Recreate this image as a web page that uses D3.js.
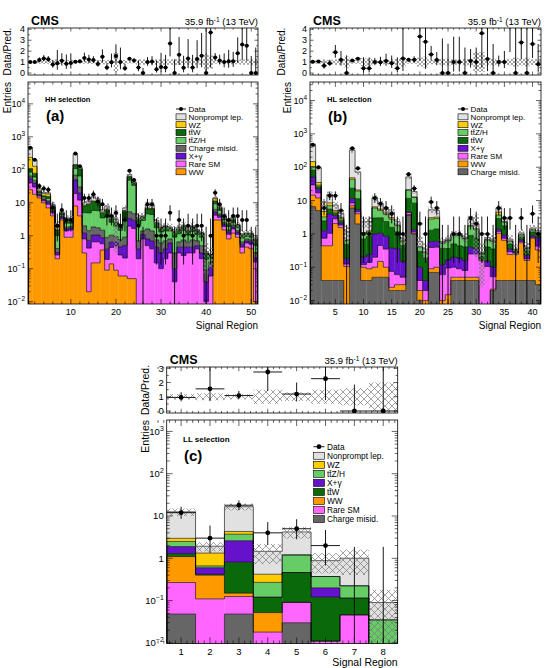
<!DOCTYPE html>
<html>
<head>
<meta charset="utf-8">
<script src="https://cdn.jsdelivr.net/npm/d3@7"></script>
<style>
body { margin: 0; background: #fff; }
svg text { font-family: "Liberation Sans", Arial, Helvetica, sans-serif; fill: #000; }
</style>
</head>
<body>
<script>
// ---------- data: HH selection (51 signal regions) ----------
var hhWW = [25,18,14,10,7,4,0.2,3,0.9,0.9, 8,4,0.3,0.02,0.15,0.15,0.37,0.09,0.14,0.09, 0.06,0.06,0.05,0.05,0,0,0,0,0,0, 0,0,0,0,0,0,0,0,0,0, 0,3,3,1.5,0.8,1.2,0.9,0.3,0.45,0.4, 0.01];
var hhRare = [15,12,2,1.5,2,1,0.06,0.3,0.5,0.6, 11,8,0.5,0.4,0.5,0.5,0.2,0.1,0.3,0.4, 0.2,0.15,1.9,1.6,0.2,0.8,0.5,0.4,0.15,0.1, 0.2,0.3,0.04,0.3,0.25,0.3,0.3,0.4,0.2,0.01, 0.06,1.2,0.6,0.4,0.3,0.4,0.2,0.15,0.15,0.15, 0.15];
var hhXg = [15,10,1.5,1,1.5,0.5,0.05,0.3,0.2,0.2, 30,8,0.4,0.3,0.4,0.4,0.3,0.2,0.2,0.15, 0.2,0.3,1.4,1.3,0.2,0.3,0.3,0.3,0.3,0.2, 0.2,0.3,0.06,0.15,0.2,0.15,0.15,0.1,0.1,0.03, 0.05,1.1,0.5,0.3,0.2,0.25,0.2,0.1,0.1,0.1, 0.05];
var hhChargeMisid = [10,8,1,0.8,1,0.5,0.1,0.2,0.2,0.2, 20,10,0.8,0.7,0.8,0.7,0.6,0.5,0.4,0.3, 0.3,0.4,2,1.7,0.3,0.3,0.8,0.7,0.3,0.3, 0.3,0.2,0.2,0.2,0.3,0.2,0.3,0.2,0.2,0.05, 0.05,1,0.5,0.3,0.2,0.2,0.15,0.1,0.1,0.1, 0.1];
var hhTTZH = [20,12,1.5,1.5,2,0.8,0.6,0.5,0.6,0.5, 40,35,3,3.5,4,4,2,3,1.5,1, 0.7,2.5,43,29,1.5,1.5,3,3,1,0.7, 0.7,0.6,0.6,0.5,0.7,0.4,0.6,0.4,0.4,0.1, 0.05,3,1.2,0.6,0.4,0.5,0.3,0.2,0.15,0.15, 0.2];
var hhTTW = [25,18,2,1.5,2,1,0.5,0.5,0.6,0.5, 30,40,3,4,5,4,1.5,2,1,0.6, 0.4,2,13,6,1,0.8,2,2,0.7,0.4, 0.5,0.3,0.4,0.4,0.5,0.3,0.5,0.3,0.3,0.1, 0.05,2,1,0.5,0.5,0.5,0.3,0.2,0.2,0.2, 0.2];
var hhWZ = [130,50,2,3,3,0.5,0.3,0.2,0.2,0.1, 5,3,0.5,0.4,0.5,0.4,0.3,0.3,0.2,0.1, 0.1,0.4,2,1,0.2,0.1,0.4,0.3,0.1,0.05, 0.05,0.05,0.05,0.05,0.05,0.05,0.05,0.05,0.02,0.01, 0.01,2.5,0.5,0.2,0.3,0.2,0.1,0.05,0.05,0.05, 0.05];
var hhNonprompt = [230,72,3,1,1.5,0.7,0.4,0.3,0.3,0.3, 156,12,1.6,2,3.8,3,0.8,1.8,0.3,0.56, 0.04,1.2,8,2,0.6,0.2,2,1.8,0.4,0.05, 0.05,0.1,0.15,0.2,0.1,0.1,0.1,0.1,0.05,0.03, 0,0.2,0.5,0.2,0.1,0.45,0.05,0.05,0,0.05, 0.04];
var hhData = [470,200,32,27,25,7,2,6,3,3, 310,128,14,14,18,11,9,4,4,5, 2,3,93,49,2,0,9,9,1,1, 1,5,0,3,1,2,1,2,2,0, 1,20,9,4,3,4,4,3,3,0, 0];
var hhUnc = [0.1,0.1,0.15,0.15,0.15,0.15,0.25,0.15,0.2,0.2, 0.1,0.12,0.15,0.15,0.15,0.15,0.2,0.2,0.2,0.9, 0.25,0.2,0.12,0.12,0.25,0.25,0.2,0.2,0.25,0.25, 0.25,0.25,0.3,0.25,0.25,0.25,0.25,0.25,0.25,0.8, 0.6,0.15,0.15,0.2,0.2,0.2,0.2,0.25,0.25,0.25, 0.3];

// ---------- data: HL selection (41 signal regions) ----------
var hlChargeMisid = [6.6,5,0.04,0.04,0.04,0.04,0.005,6,2,0.04, 0.04,0.05,0.05,0.05,0.02,0.02,0.02,3.7,1,0.01, 0.005,0.07,0.07,0.005,0.005,0.04,0.04,0.04,0.04,0.04, 0.003,0.003,0.02,0.04,0.04,0.04,0.04,0.04,0.04,0.04, 0.03];
var hlWW = [8,7,0.4,0.4,2,1.5,0.1,1,2,0.06, 0.05,0.05,0.1,0.05,0.005,0.01,0.01,0.05,0.05,0.01, 0.005,0.02,0.03,0.005,0.01,0.01,0.01,0.01,0.01,0.01, 0.002,0.002,0.002,1,0.6,0.2,0.2,0.5,0.12,0.7, 0.3];
var hlRare = [15,5,0.3,0.6,0.8,0.3,0.02,1.5,0.6,0.02, 0.05,0.1,0.3,0.25,0.05,0.03,0.02,0.6,0.1,0.02, 0.01,0.3,0.3,0.05,0.08,0.05,0.04,0.03,0.2,0.2, 0.15,0.1,0.03,0.15,0.1,0.05,0.02,0.05,0.02,0.05, 0.1];
var hlXg = [22,5,0.5,3,0.7,0.3,0.06,3,0.8,0.08, 0.1,0.8,0.6,0.5,0.3,0.3,0.1,0.3,0.2,0.06, 0.02,0.2,0.2,0.06,0.07,0.1,0.1,0.08,0.15,0.1, 0.005,0.05,0.05,0.2,0.2,0.06,0.02,0.08,0.05,0.1, 0.35];
var hlTTW = [30,4,1.2,1.5,0.6,0.4,0.3,12,6,0.5, 0.6,2,2,1.5,1.2,0.8,0.3,7,7,0.2, 0.15,0.7,0.8,0.25,0.2,0.3,0.25,0.25,0.5,0.4, 0.05,0.25,0.25,1.5,0.8,0.15,0.03,0.15,0.08,0.25, 0.2];
var hlTTZH = [23,3,0.8,1.5,0.4,0.3,0.15,20,8,0.3, 0.3,3,2,1.5,1.2,0.6,0.15,9,4,0.1, 0.08,1.5,1.5,0.15,0.25,0.4,0.45,0.3,0.8,0.6, 0.04,0.25,0.25,0.8,0.5,0.1,0.02,0.1,0.05,0.15, 0.1];
var hlWZ = [43,6,1.5,1.5,0.5,0.3,0.02,5,1.5,0.1, 0.1,0.5,0.5,0.4,0.3,0.1,0.05,0.5,0.5,0.02, 0.02,0.3,0.3,0.02,0.02,0.03,0.05,0.02,0.1,0.08, 0.005,0.02,0.02,0.8,0.1,0.02,0.01,0.05,0.01,0.06, 0.04];
var hlNonprompt = [310,60,4.3,7,2.3,1,0.5,272,50,1.2, 1.1,5.5,2.5,1.2,1.4,0.45,0.1,30,6,0.18, 0.06,2.2,1.8,0.05,0.06,0.07,0.06,0.07,0.9,0.57, 0.02,0.1,0.08,1.5,0.6,0.08,0.01,0.1,0.03,0.15, 0.13];
var hlData = [470,100,6,14,14,5,0,370,93,1, 1,12,8,6,4,1,1,62,23,2, 1,9,6,0,0,1,1,0,3,2, 1,1,0,6,3,3,0,3,0,4, 1];
var hlUnc = [0.15,0.15,0.25,0.2,0.25,0.25,0.5,0.15,0.15,0.35, 0.35,0.2,0.2,0.2,0.25,0.3,0.4,0.15,0.15,0.4, 0.5,0.2,0.2,0.3,0.3,0.25,0.25,0.3,0.3,0.9, 0.9,0.3,0.3,0.2,0.2,0.3,0.4,0.3,0.4,0.25, 0.3];

// ---------- data: LL selection (8 signal regions) ----------
var llChargeMisid = [0.048,0,0.048,0,0.03,0,0,0];
var llRare = [0.22,0.11,0.077,0.018,0.061,0.011,0.046,0];
var llWW = [0.83,0.29,0.025,0.034,0,0,0,0];
var llTTW = [0.2,0.02,0.66,0.068,0.37,0.11,0.068,0];
var llXg = [0.6,0.18,1.8,0,0,0.08,0,0];
var llTTZH = [0.6,0.06,1.1,0.15,0.74,0.17,0.11,0.035];
var llWZ = [0.47,0.67,0.6,0.15,0,0,0,0];
var llNonprompt = [9.6,0.6,12.3,1.04,3.0,0.51,0.78,0.055];
var llData = [12,3,18,4,5,2,0,0];
var llUnc = [0.2,0.25,0.18,0.5,0.3,0.5,0.6,1.0];

//colours of the processes
var colors = {
    nonprompt: "#e1e1e1",
    wz: "#ffcc00",
    ttw: "#0a6a0a",
    ttzh: "#66cc66",
    cmid: "#666666",
    xg: "#6611cc",
    rare: "#ff66ff",
    ww: "#ff9900"
};
var TTW = "tt\u0304W", TTZH = "tt\u0304Z/H";

var svg = d3.select("body").append("svg")
    .attr("width", 549)
    .attr("height", 668);
var defs = svg.append("defs");

function makeHatch(id, s) {
    var p = defs.append("pattern").attr("id", id)
        .attr("patternUnits", "userSpaceOnUse")
        .attr("width", s).attr("height", s);
    p.append("path")
        .attr("d", `M0,0L${s},${s}M${s},0L0,${s}`)
        .attr("stroke", "#7a7a7a").attr("stroke-width", 0.7).attr("fill", "none");
}
makeHatch("hatchSmall", 4);
makeHatch("hatchBig", 7);

//poisson-like data error bars
function errUp(n) { return Math.sqrt(n + 0.75) + 1; }
function errDn(n) { return n > 0 ? Math.sqrt(n - 0.25) : 0; }

function supLabel(sel, base, sup, size) {
    sel.append("tspan").text(base);
    if (sup !== null) {
        sel.append("tspan").attr("dy", -size * 0.4).attr("font-size", size * 0.72).text(sup);
    }
}

function drawPanel(cfg) {
    var nb = cfg.data.length;
    var keys = cfg.procs.map(p => p.key);
    var rows = d3.range(nb).map(function (i) {
        var r = { bin: i + 1 };
        cfg.procs.forEach(p => r[p.key] = p.values[i]);
        return r;
    });
    var series = d3.stack().keys(keys)(rows);
    var totals = rows.map(r => d3.sum(keys, k => r[k]));

    var x = d3.scaleLinear().domain([0.5, nb + 0.5]).range([cfg.left, cfg.right]);
    var y = d3.scaleLog().domain(cfg.logDomain).range([cfg.mainBottom, cfg.mainTop]);
    var yR = d3.scaleLinear().domain(cfg.ratioDomain).range([cfg.ratioBottom, cfg.ratioTop]);
    var low = cfg.mainBottom + 4;
    var yPix = v => v > 0 ? y(v) : low;

    defs.append("clipPath").attr("id", cfg.id + "main").append("rect")
        .attr("x", cfg.left).attr("y", cfg.mainTop)
        .attr("width", cfg.right - cfg.left).attr("height", cfg.mainBottom - cfg.mainTop);
    defs.append("clipPath").attr("id", cfg.id + "ratio").append("rect")
        .attr("x", cfg.left).attr("y", cfg.ratioTop)
        .attr("width", cfg.right - cfg.left).attr("height", cfg.ratioBottom - cfg.ratioTop);

    var main = svg.append("g").attr("clip-path", `url(#${cfg.id}main)`);

    //stacked fills
    series.forEach(function (s, k) {
        main.append("g").selectAll("rect")
            .data(s.filter(d => d[1] - d[0] > 0))
            .enter()
            .append("rect")
            .attr("x", d => x(d.data.bin - 0.5))
            .attr("width", d => x(d.data.bin + 0.5) - x(d.data.bin - 0.5) + 0.3)
            .attr("y", d => yPix(d[1]))
            .attr("height", d => yPix(d[0]) - yPix(d[1]))
            .attr("fill", cfg.procs[k].color);
    });
    //outlines of each layer
    series.forEach(function (s) {
        var p = d3.path();
        p.moveTo(x(0.5), low);
        s.forEach(function (d, i) {
            p.lineTo(x(i + 0.5), yPix(d[1]));
            p.lineTo(x(i + 1.5), yPix(d[1]));
        });
        p.lineTo(x(nb + 0.5), low);
        main.append("path").attr("d", p.toString())
            .attr("fill", "none").attr("stroke", "#000").attr("stroke-width", 0.6);
    });

    //uncertainty band
    main.append("g").selectAll("rect")
        .data(d3.range(nb))
        .enter()
        .append("rect")
        .attr("x", i => x(i + 0.5))
        .attr("width", i => x(i + 1.5) - x(i + 0.5))
        .attr("y", i => y(totals[i] * (1 + cfg.unc[i])))
        .attr("height", i => yPix(totals[i] * (1 - cfg.unc[i])) - y(totals[i] * (1 + cfg.unc[i])))
        .attr("fill", `url(#${cfg.hatch})`);

    //data points
    var dg = main.append("g");
    cfg.data.forEach(function (n, i) {
        var cx = x(i + 1);
        dg.append("line").attr("x1", cx).attr("x2", cx)
            .attr("y1", yPix(n - errDn(n))).attr("y2", y(n + errUp(n)))
            .attr("stroke", "#000").attr("stroke-width", 0.9);
        if (n > 0) {
            dg.append("line").attr("x1", x(i + 0.5)).attr("x2", x(i + 1.5))
                .attr("y1", y(n)).attr("y2", y(n))
                .attr("stroke", "#000").attr("stroke-width", 0.9);
            dg.append("circle").attr("cx", cx).attr("cy", y(n)).attr("r", cfg.markerR);
        }
    });

    //ratio panel
    var rg = svg.append("g").attr("clip-path", `url(#${cfg.id}ratio)`);
    rg.append("g").selectAll("rect")
        .data(d3.range(nb))
        .enter()
        .append("rect")
        .attr("x", i => x(i + 0.5))
        .attr("width", i => x(i + 1.5) - x(i + 0.5))
        .attr("y", i => yR(1 + cfg.unc[i]))
        .attr("height", i => yR(1 - cfg.unc[i]) - yR(1 + cfg.unc[i]))
        .attr("fill", `url(#${cfg.hatch})`);
    cfg.data.forEach(function (n, i) {
        var t = totals[i];
        var r = n / t;
        var cx = x(i + 1);
        rg.append("line").attr("x1", cx).attr("x2", cx)
            .attr("y1", yR(r - errDn(n) / t)).attr("y2", yR(r + errUp(n) / t))
            .attr("stroke", "#000").attr("stroke-width", 0.9);
        rg.append("line").attr("x1", x(i + 0.5)).attr("x2", x(i + 1.5))
            .attr("y1", yR(r)).attr("y2", yR(r))
            .attr("stroke", "#000").attr("stroke-width", 0.9);
        rg.append("circle").attr("cx", cx).attr("cy", yR(r)).attr("r", cfg.markerR);
    });

    //frames and ticks
    var ax = svg.append("g").attr("stroke", "#000").attr("fill", "none");
    [[cfg.mainTop, cfg.mainBottom], [cfg.ratioTop, cfg.ratioBottom]].forEach(function (fr) {
        ax.append("rect").attr("x", cfg.left).attr("y", fr[0])
            .attr("width", cfg.right - cfg.left).attr("height", fr[1] - fr[0])
            .attr("stroke-width", 0.8);
    });
    function xTicks(top, bottom, big) {
        var maj = big ? cfg.tickMajor : cfg.tickMajor * 0.7;
        d3.range(cfg.xMinorStep, nb + 0.5, cfg.xMinorStep).forEach(function (v) {
            var isMaj = Math.abs(v / cfg.xMajorStep - Math.round(v / cfg.xMajorStep)) < 1e-6;
            var len = isMaj ? maj : maj * 0.5;
            var px = x(v);
            ax.append("line").attr("x1", px).attr("x2", px).attr("y1", bottom).attr("y2", bottom - len).attr("stroke-width", 0.6);
            ax.append("line").attr("x1", px).attr("x2", px).attr("y1", top).attr("y2", top + len).attr("stroke-width", 0.6);
        });
    }
    xTicks(cfg.mainTop, cfg.mainBottom, true);
    xTicks(cfg.ratioTop, cfg.ratioBottom, false);

    function yTick(py, len) {
        ax.append("line").attr("x1", cfg.left).attr("x2", cfg.left + len).attr("y1", py).attr("y2", py).attr("stroke-width", 0.6);
        ax.append("line").attr("x1", cfg.right).attr("x2", cfg.right - len).attr("y1", py).attr("y2", py).attr("stroke-width", 0.6);
    }
    var e0 = Math.floor(Math.log10(cfg.logDomain[0])), e1 = Math.ceil(Math.log10(cfg.logDomain[1]));
    var lab = svg.append("g").attr("font-size", cfg.fontTick);
    for (var e = e0; e <= e1; e++) {
        for (var m = 1; m <= 9; m++) {
            var v = m * Math.pow(10, e);
            if (v < cfg.logDomain[0] || v > cfg.logDomain[1]) continue;
            yTick(y(v), m === 1 ? cfg.tickMajor : cfg.tickMajor * 0.5);
            if (m === 1) {
                var t = lab.append("text").attr("x", cfg.left - 3).attr("y", y(v) + cfg.fontTick * 0.35)
                    .attr("text-anchor", "end");
                if (e === 0) supLabel(t, "1", null, cfg.fontTick);
                else if (e === 1) supLabel(t, "10", null, cfg.fontTick);
                else supLabel(t, "10", String(e).replace("-", "\u2212"), cfg.fontTick);
            }
        }
    }
    d3.range(0, cfg.ratioDomain[1], 0.5).forEach(function (v) {
        var isMaj = Math.abs(v - Math.round(v)) < 1e-6;
        yTick(yR(v), isMaj ? cfg.tickMajor * 0.7 : cfg.tickMajor * 0.35);
        if (isMaj) {
            lab.append("text").attr("x", cfg.left - 3).attr("y", yR(v) + cfg.fontTick * 0.35)
                .attr("text-anchor", "end").text(v);
        }
    });
    d3.range(cfg.xMajorStep, nb + 0.5, cfg.xMajorStep).forEach(function (v) {
        lab.append("text").attr("x", x(v)).attr("y", cfg.mainBottom + cfg.fontTick + 2)
            .attr("text-anchor", "middle").text(v);
    });

    //titles
    var tg = svg.append("g");
    tg.append("text").attr("x", cfg.right).attr("y", cfg.mainBottom + cfg.titleDy)
        .attr("text-anchor", "end").attr("font-size", cfg.fontTitle).text("Signal Region");
    tg.append("text").attr("transform", `translate(${cfg.entriesX},${cfg.mainTop}) rotate(-90)`)
        .attr("text-anchor", "end").attr("font-size", cfg.fontTitle).text("Entries");
    tg.append("text").attr("transform", `translate(${cfg.ratioTitleX},${(cfg.ratioTop + cfg.ratioBottom) / 2}) rotate(-90)`)
        .attr("text-anchor", "middle").attr("font-size", cfg.fontTitle).text("Data/Pred.");
    tg.append("text").attr("x", cfg.left + 3).attr("y", cfg.ratioTop - 3)
        .attr("font-size", 12.5).attr("font-weight", "bold").text("CMS");
    var lumi = tg.append("text").attr("x", cfg.right).attr("y", cfg.ratioTop - 3)
        .attr("text-anchor", "end").attr("font-size", 9.5);
    lumi.append("tspan").text("35.9 fb");
    lumi.append("tspan").attr("dy", -3.5).attr("font-size", 6.5).text("-1");
    lumi.append("tspan").attr("dy", 3.5).text(" (13 TeV)");
    tg.append("text").attr("x", cfg.selX).attr("y", cfg.selY)
        .attr("font-size", cfg.fontSel).attr("font-weight", "bold").text(cfg.selection);
    tg.append("text").attr("x", cfg.selX + 1).attr("y", cfg.letterY)
        .attr("font-size", 15).attr("font-weight", "bold").text(cfg.letter);

    //legend
    var lg = svg.append("g");
    cfg.legend.forEach(function (e, i) {
        var cy = cfg.legendY + i * cfg.legendDy;
        if (e.key === "data") {
            lg.append("line").attr("x1", cfg.legendX).attr("x2", cfg.legendX + cfg.boxW)
                .attr("y1", cy).attr("y2", cy).attr("stroke", "#000").attr("stroke-width", 0.9);
            lg.append("circle").attr("cx", cfg.legendX + cfg.boxW / 2).attr("cy", cy).attr("r", cfg.markerR);
        } else {
            lg.append("rect").attr("x", cfg.legendX).attr("y", cy - cfg.boxH / 2)
                .attr("width", cfg.boxW).attr("height", cfg.boxH)
                .attr("fill", e.color).attr("stroke", "#000").attr("stroke-width", 0.6);
        }
        lg.append("text").attr("x", cfg.legendX + cfg.boxW + 2.5).attr("y", cy + cfg.fontLegend * 0.36)
            .attr("font-size", cfg.fontLegend).text(e.label);
    });
}

var procHH = [
    { key: "ww", label: "WW", values: hhWW, color: colors.ww },
    { key: "rare", label: "Rare SM", values: hhRare, color: colors.rare },
    { key: "xg", label: "X+\u03b3", values: hhXg, color: colors.xg },
    { key: "cmid", label: "Charge misid.", values: hhChargeMisid, color: colors.cmid },
    { key: "ttzh", label: TTZH, values: hhTTZH, color: colors.ttzh },
    { key: "ttw", label: TTW, values: hhTTW, color: colors.ttw },
    { key: "wz", label: "WZ", values: hhWZ, color: colors.wz },
    { key: "nonprompt", label: "Nonprompt lep.", values: hhNonprompt, color: colors.nonprompt }
];
var procHL = [
    { key: "cmid", label: "Charge misid.", values: hlChargeMisid, color: colors.cmid },
    { key: "ww", label: "WW", values: hlWW, color: colors.ww },
    { key: "rare", label: "Rare SM", values: hlRare, color: colors.rare },
    { key: "xg", label: "X+\u03b3", values: hlXg, color: colors.xg },
    { key: "ttw", label: TTW, values: hlTTW, color: colors.ttw },
    { key: "ttzh", label: TTZH, values: hlTTZH, color: colors.ttzh },
    { key: "wz", label: "WZ", values: hlWZ, color: colors.wz },
    { key: "nonprompt", label: "Nonprompt lep.", values: hlNonprompt, color: colors.nonprompt }
];
var procLL = [
    { key: "cmid", label: "Charge misid.", values: llChargeMisid, color: colors.cmid },
    { key: "rare", label: "Rare SM", values: llRare, color: colors.rare },
    { key: "ww", label: "WW", values: llWW, color: colors.ww },
    { key: "ttw", label: TTW, values: llTTW, color: colors.ttw },
    { key: "xg", label: "X+\u03b3", values: llXg, color: colors.xg },
    { key: "ttzh", label: TTZH, values: llTTZH, color: colors.ttzh },
    { key: "wz", label: "WZ", values: llWZ, color: colors.wz },
    { key: "nonprompt", label: "Nonprompt lep.", values: llNonprompt, color: colors.nonprompt }
];
function legendOf(procs) {
    return [{ key: "data", label: "Data" }].concat(procs.slice().reverse());
}

drawPanel({
    id: "hh", procs: procHH, data: hhData, unc: hhUnc, hatch: "hatchSmall",
    left: 28, right: 258, ratioTop: 28, ratioBottom: 75, ratioDomain: [-0.18, 4.12],
    mainTop: 82, mainBottom: 304, logDomain: [0.0085, 4.6e4],
    xMajorStep: 10, xMinorStep: 2, tickMajor: 5, markerR: 2,
    fontTick: 9, fontTitle: 10, titleDy: 25, entriesX: 10.5, ratioTitleX: 10.5,
    selection: "HH selection", selX: 45, selY: 102, fontSel: 7.5, letter: "(a)", letterY: 120.5,
    legend: legendOf(procHH), legendX: 176, legendY: 109, legendDy: 7.85, boxW: 10, boxH: 6, fontLegend: 8
});
drawPanel({
    id: "hl", procs: procHL, data: hlData, unc: hlUnc, hatch: "hatchSmall",
    left: 310, right: 541, ratioTop: 28, ratioBottom: 75, ratioDomain: [-0.18, 4.12],
    mainTop: 82, mainBottom: 304, logDomain: [0.0079, 3.6e4],
    xMajorStep: 5, xMinorStep: 1, tickMajor: 5, markerR: 2,
    fontTick: 9, fontTitle: 10, titleDy: 25, entriesX: 291, ratioTitleX: 285,
    selection: "HL selection", selX: 327, selY: 102, fontSel: 7.5, letter: "(b)", letterY: 122,
    legend: legendOf(procHL), legendX: 458, legendY: 109, legendDy: 7.85, boxW: 10, boxH: 6, fontLegend: 8
});
drawPanel({
    id: "ll", procs: procLL, data: llData, unc: llUnc, hatch: "hatchBig",
    left: 166.7, right: 397.7, ratioTop: 367, ratioBottom: 413, ratioDomain: [-0.14, 3.09],
    mainTop: 420, mainBottom: 643.5, logDomain: [0.00968, 1862],
    xMajorStep: 1, xMinorStep: 0.2, tickMajor: 6, markerR: 2.4,
    fontTick: 9.5, fontTitle: 10.5, titleDy: 22, entriesX: 149, ratioTitleX: 149,
    selection: "LL selection", selX: 183, selY: 441.5, fontSel: 8, letter: "(c)", letterY: 461,
    legend: legendOf(procLL), legendX: 313.5, legendY: 446.7, legendDy: 9.05, boxW: 11, boxH: 7, fontLegend: 8.3
});
</script>
</body>
</html>
